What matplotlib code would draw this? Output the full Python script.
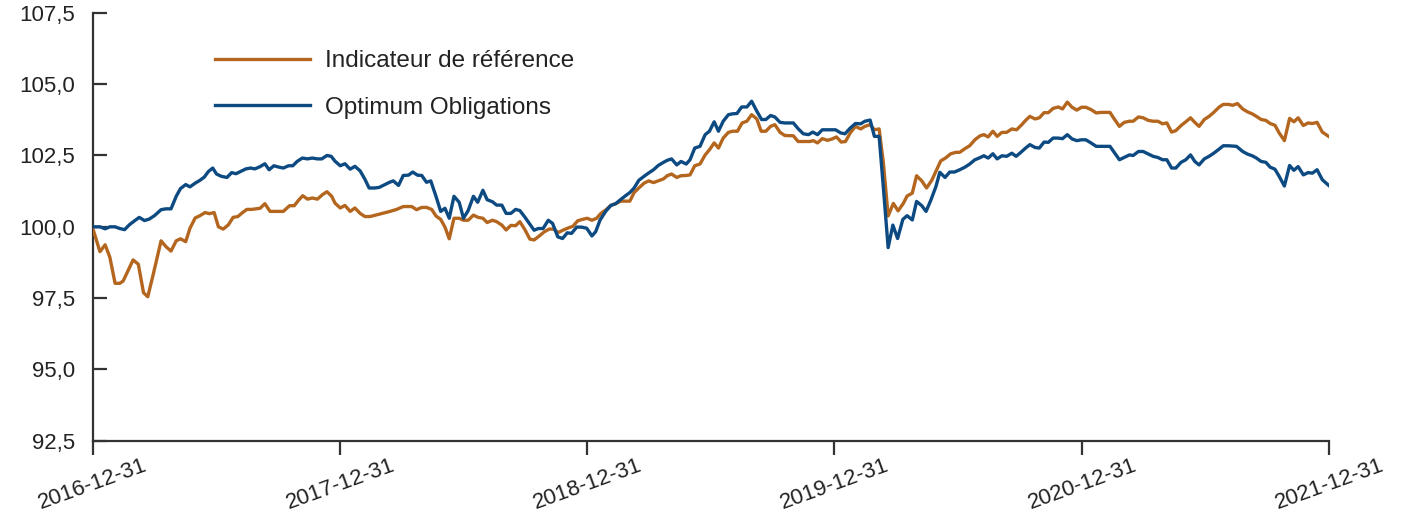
import pandas as pd
import numpy as np
import matplotlib
matplotlib.use('Agg')
import matplotlib.pyplot as plt

plt.rcParams['font.family'] = ['Liberation Sans', 'DejaVu Sans']

# weekly values, positions given in weeks since 2016-12-30
opt_weeks = [0, 1.6, 2.7, 3.7, 4.8, 5.8, 6.8, 7.8, 8.9, 9.9, 11.0, 12.0, 13.1, 14.5, 15.5, 16.6, 17.7, 18.6,
             19.7, 20.6, 21.7, 22.7, 23.6, 24.5, 25.4, 26.2, 27.2, 28.4, 29.4, 30.3, 31.3, 32.4, 33.4, 34.3,
             35.4, 36.4, 37.3, 38.3, 39.4, 40.3, 41.4, 42.3, 43.2, 44.3, 45.4, 46.4, 47.5, 48.4, 49.5, 50.4,
             51.2, 52.3, 53.3, 54.4, 55.4, 56.5, 57.5, 58.4, 59.5, 60.5, 61.6, 62.7, 63.5, 64.6, 65.6, 66.7,
             67.6, 68.6, 69.5, 70.5, 71.4, 72.5, 73.5, 74.4, 75.3, 76.3, 77.4, 78.3, 79.3, 80.4, 81.3, 82.4,
             83.3, 84.4, 85.3, 86.4, 87.3, 88.3, 89.3, 90.2, 91.3, 92.2, 93.2, 94.1, 95.1, 96.2, 97.1, 98.2,
             99.2, 100.2, 101.1, 102.2, 103.2, 104.3, 105.4, 106.2, 107.1, 108.3, 109.4, 110.4, 111.5, 112.5,
             113.4, 114.3, 115.3, 116.4, 117.4, 118.4, 119.4, 120.5, 121.3, 122.2, 123.3, 124.2, 125.3, 126.1,
             127.1, 128.2, 129.3, 130.2, 131.2, 132.1, 133.1, 134.2, 135.1, 136.0, 137.0, 138.1, 139.1, 140.2,
             141.2, 142.1, 143.1, 144.0, 145.1, 146.1, 147.9, 148.9, 150.0, 151.1, 152.0, 153.0, 154.0, 155.1,
             156.8, 157.9, 158.8, 159.9, 161.0, 162.1, 163.0, 164.1, 165.0, 166.0, 166.9, 167.9, 168.9, 169.9,
             171.0, 171.9, 173.0, 173.9, 175.0, 175.9, 176.9, 178.0, 178.8, 179.9, 180.9, 181.9, 183.0, 184.1,
             185.1, 186.2, 187.1, 188.1, 189.0, 190.0, 190.9, 191.9, 192.9, 194.0, 194.9, 195.9, 196.9, 197.8,
             198.9, 199.8, 200.8, 201.7, 202.7, 203.7, 204.7, 205.7, 206.7, 207.7, 208.7, 209.6, 210.7, 211.8,
             212.8, 214.7, 215.6, 216.7, 217.7, 218.8, 219.6, 220.7, 221.7, 222.8, 223.8, 224.8, 225.8, 226.7,
             227.7, 228.6, 229.7, 230.7, 231.7, 232.6, 233.5, 234.6, 235.6, 236.6, 237.7, 238.6, 239.7, 241.4,
             242.7, 243.7, 244.7, 245.6, 246.6, 247.6, 248.5, 249.5, 250.4, 251.5, 252.6, 253.5, 254.4, 255.5,
             256.5, 257.4, 258.4, 259.5, 261.0]
opt_values = [100.00, 100.00, 99.93, 100.00, 100.00, 99.94, 99.90, 100.07, 100.21, 100.33, 100.22, 100.27,
              100.39, 100.60, 100.63, 100.63, 101.07, 101.34, 101.48, 101.40, 101.53, 101.63, 101.74, 101.94,
              102.06, 101.85, 101.77, 101.73, 101.90, 101.86, 101.94, 102.03, 102.06, 102.03, 102.11, 102.21,
              102.00, 102.14, 102.09, 102.06, 102.14, 102.14, 102.29, 102.41, 102.38, 102.41, 102.38, 102.38,
              102.50, 102.47, 102.30, 102.14, 102.21, 102.02, 102.12, 101.96, 101.67, 101.36, 101.36, 101.38,
              101.47, 101.56, 101.61, 101.45, 101.80, 101.81, 101.92, 101.81, 101.80, 101.56, 101.61, 101.07,
              100.54, 100.65, 100.30, 101.07, 100.86, 100.30, 100.57, 101.07, 100.86, 101.28, 100.95, 100.88,
              100.76, 100.76, 100.47, 100.47, 100.61, 100.57, 100.33, 100.12, 99.88, 99.94, 99.94, 100.23,
              100.12, 99.65, 99.59, 99.79, 99.77, 99.99, 99.99, 99.95, 99.68, 99.83, 100.23, 100.54, 100.75,
              100.81, 100.96, 101.09, 101.20, 101.36, 101.63, 101.77, 101.89, 102.00, 102.15, 102.26, 102.33,
              102.38, 102.17, 102.29, 102.20, 102.35, 102.76, 102.82, 103.23, 103.35, 103.68, 103.35, 103.70,
              103.93, 103.96, 103.97, 104.20, 104.20, 104.40, 104.05, 103.76, 103.76, 103.90, 103.85, 103.66,
              103.64, 103.64, 103.44, 103.26, 103.23, 103.32, 103.23, 103.40, 103.40, 103.40, 103.29, 103.26,
              103.46, 103.62, 103.61, 103.70, 103.74, 103.17, 103.17, 101.36, 99.27, 100.06, 99.59, 100.26,
              100.39, 100.24, 100.89, 100.74, 100.54, 100.93, 101.42, 101.91, 101.73, 101.92, 101.92, 102.00,
              102.09, 102.20, 102.35, 102.41, 102.49, 102.41, 102.56, 102.38, 102.49, 102.47, 102.58, 102.47,
              102.61, 102.76, 102.88, 102.78, 102.76, 102.97, 102.96, 103.11, 103.11, 103.09, 103.23, 103.08,
              103.02, 103.05, 103.05, 102.94, 102.82, 102.82, 102.82, 102.61, 102.35, 102.43, 102.52, 102.50,
              102.64, 102.64, 102.55, 102.47, 102.43, 102.35, 102.35, 102.06, 102.06, 102.26, 102.35, 102.52,
              102.29, 102.17, 102.38, 102.47, 102.58, 102.72, 102.84, 102.84, 102.82, 102.64, 102.55, 102.49,
              102.41, 102.29, 102.26, 102.09, 102.02, 101.77, 101.43, 102.15, 101.98, 102.11, 101.82, 101.90,
              101.88, 102.00, 101.65, 101.43]

ref_weeks = [0, 1.6, 2.7, 3.7, 4.8, 5.8, 6.5, 7.6, 8.6, 9.7, 10.8, 11.7, 12.9, 14.5, 15.5, 16.6, 17.7, 18.6,
             19.7, 20.6, 21.7, 22.7, 23.8, 24.7, 25.7, 26.6, 27.6, 28.7, 29.7, 30.7, 31.7, 32.6, 33.6, 35.4,
             36.4, 37.5, 38.5, 40.3, 41.6, 42.6, 43.5, 44.4, 45.4, 46.4, 47.5, 48.5, 49.5, 50.5, 51.2, 52.3,
             53.3, 54.4, 55.4, 56.5, 57.5, 58.6, 60.7, 62.8, 64.2, 65.6, 67.4, 68.4, 69.5, 70.5, 71.6, 72.5,
             73.5, 74.4, 75.3, 76.3, 77.4, 78.3, 79.3, 80.4, 81.4, 82.4, 83.3, 84.4, 85.3, 86.4, 87.3, 88.3,
             89.3, 90.2, 91.3, 92.3, 93.2, 94.3, 95.4, 96.4, 97.3, 98.3, 99.4, 100.4, 101.4, 102.4, 103.4,
             104.4, 105.4, 106.4, 107.3, 108.3, 109.4, 110.4, 111.5, 112.5, 113.4, 114.3, 115.3, 116.4, 117.4,
             118.4, 119.4, 120.5, 121.3, 122.2, 123.3, 124.2, 125.3, 126.1, 127.1, 128.2, 129.3, 130.2, 131.2,
             132.1, 133.1, 134.2, 135.1, 136.1, 137.1, 138.1, 139.1, 140.2, 141.1, 142.1, 143.1, 144.0, 145.1,
             146.1, 147.9, 148.9, 150.0, 151.4, 152.1, 153.0, 154.0, 155.1, 156.1, 157.0, 158.0, 158.9, 159.9,
             161.0, 162.1, 163.0, 164.1, 165.0, 166.0, 166.9, 167.9, 169.0, 170.0, 171.1, 171.9, 173.0, 173.9,
             175.0, 176.0, 177.1, 178.0, 179.0, 180.0, 181.1, 182.2, 183.0, 184.1, 185.1, 186.2, 187.3, 188.1,
             189.0, 190.0, 190.9, 191.9, 192.9, 194.0, 195.0, 196.1, 196.9, 197.8, 198.9, 199.8, 200.8, 201.7,
             202.7, 203.8, 204.7, 205.7, 206.7, 207.7, 208.7, 209.6, 210.7, 211.8, 212.8, 214.7, 215.6, 216.7,
             217.7, 218.8, 219.6, 220.7, 221.7, 222.8, 223.8, 224.8, 225.8, 226.7, 227.7, 228.6, 229.7, 230.7,
             231.7, 232.6, 233.5, 234.6, 235.6, 236.6, 237.7, 238.6, 239.7, 240.6, 241.6, 242.7, 243.7, 244.7,
             245.6, 246.6, 247.6, 248.5, 249.5, 250.4, 251.5, 252.6, 253.5, 254.4, 255.5, 256.5, 257.4, 258.4,
             259.5, 261.0]
ref_values = [100.00, 99.13, 99.37, 98.93, 98.02, 98.02, 98.10, 98.49, 98.84, 98.69, 97.69, 97.55, 98.37,
              99.51, 99.31, 99.15, 99.51, 99.58, 99.48, 99.95, 100.31, 100.39, 100.50, 100.46, 100.50, 100.00,
              99.92, 100.07, 100.33, 100.36, 100.50, 100.61, 100.61, 100.65, 100.81, 100.54, 100.54, 100.54,
              100.74, 100.74, 100.93, 101.09, 100.97, 101.01, 100.97, 101.12, 101.23, 101.07, 100.83, 100.66,
              100.75, 100.54, 100.66, 100.47, 100.36, 100.36, 100.45, 100.54, 100.61, 100.71, 100.71, 100.60,
              100.68, 100.68, 100.61, 100.38, 100.26, 99.99, 99.58, 100.30, 100.30, 100.23, 100.23, 100.41,
              100.33, 100.30, 100.15, 100.23, 100.18, 100.06, 99.89, 100.05, 100.04, 100.18, 99.89, 99.57,
              99.54, 99.68, 99.83, 99.92, 99.92, 99.80, 99.89, 99.96, 100.02, 100.21, 100.26, 100.30, 100.23,
              100.30, 100.47, 100.59, 100.75, 100.81, 100.90, 100.90, 100.90, 101.20, 101.36, 101.53, 101.61,
              101.55, 101.61, 101.68, 101.79, 101.85, 101.73, 101.79, 101.80, 101.82, 102.14, 102.20, 102.52,
              102.70, 102.94, 102.76, 103.11, 103.31, 103.35, 103.35, 103.64, 103.70, 103.93, 103.78, 103.35,
              103.35, 103.52, 103.58, 103.31, 103.20, 103.19, 102.99, 102.99, 102.99, 103.02, 102.94, 103.09,
              103.03, 103.08, 103.15, 102.97, 102.99, 103.29, 103.52, 103.43, 103.52, 103.58, 103.40, 103.43,
              102.23, 100.38, 100.82, 100.56, 100.82, 101.08, 101.18, 101.79, 101.61, 101.36, 101.63, 101.95,
              102.31, 102.41, 102.56, 102.61, 102.61, 102.74, 102.84, 103.05, 103.19, 103.23, 103.15, 103.35,
              103.17, 103.31, 103.31, 103.43, 103.40, 103.58, 103.73, 103.87, 103.78, 103.82, 104.00, 104.00,
              104.15, 104.20, 104.13, 104.37, 104.19, 104.09, 104.19, 104.19, 104.11, 103.99, 104.01, 104.01,
              103.78, 103.52, 103.66, 103.70, 103.70, 103.85, 103.82, 103.73, 103.70, 103.70, 103.61, 103.64,
              103.32, 103.37, 103.55, 103.68, 103.82, 103.66, 103.52, 103.76, 103.87, 104.01, 104.19, 104.29,
              104.29, 104.26, 104.32, 104.13, 104.03, 103.96, 103.87, 103.76, 103.73, 103.62, 103.56, 103.29,
              103.02, 103.80, 103.68, 103.82, 103.55, 103.64, 103.62, 103.66, 103.32, 103.15]

tick_dates = ['2016-12-31', '2017-12-31', '2018-12-31', '2019-12-31', '2020-12-31', '2021-12-31']
y_ticks = [92.5, 95.0, 97.5, 100.0, 102.5, 105.0, 107.5]

base = pd.Timestamp('2016-12-30')
opt_dates = base + pd.to_timedelta(np.array(opt_weeks) * 7, unit='D')
ref_dates = base + pd.to_timedelta(np.array(ref_weeks) * 7, unit='D')

ORANGE = '#B4661F'
BLUE = '#0D4A82'
AXC = '#333333'

fig = plt.figure(figsize=(14.05, 5.12), dpi=100)
ax = fig.add_axes([0.0662, 0.139, 0.88, 0.836])

ax.plot(ref_dates, ref_values, color=ORANGE, lw=2.4, label='Indicateur de référence', zorder=3)
ax.plot(opt_dates, opt_values, color=BLUE, lw=2.4, label='Optimum Obligations', zorder=3)

ax.set_xlim(pd.Timestamp(tick_dates[0]), pd.Timestamp(tick_dates[-1]))
ax.set_ylim(92.5, 107.5)

for s in ['top', 'right']:
    ax.spines[s].set_visible(False)
for s in ['left', 'bottom']:
    ax.spines[s].set_color(AXC)
    ax.spines[s].set_linewidth(1.6)

ax.set_yticks(y_ticks)
ax.set_yticklabels([f'{v:.1f}'.replace('.', ',') for v in y_ticks], fontsize=16, color='#222222')
ax.tick_params(axis='y', direction='in', length=10, width=1.6, color=AXC, pad=13)

ax.set_xticks([pd.Timestamp(d) for d in tick_dates])
ax.set_xticklabels(tick_dates, fontsize=16, color='#222222', rotation=20, ha='center')
ax.tick_params(axis='x', direction='out', length=10, width=1.6, color=AXC, pad=0)

leg = ax.legend(loc='upper left', bbox_to_anchor=(0.099, 0.913), frameon=False, fontsize=17.5,
                handlelength=3.9, handletextpad=0.6, labelspacing=1.02, borderpad=0, borderaxespad=0)
for t in leg.get_texts():
    t.set_color('#222222')

fig.savefig('out.png', dpi=100)
